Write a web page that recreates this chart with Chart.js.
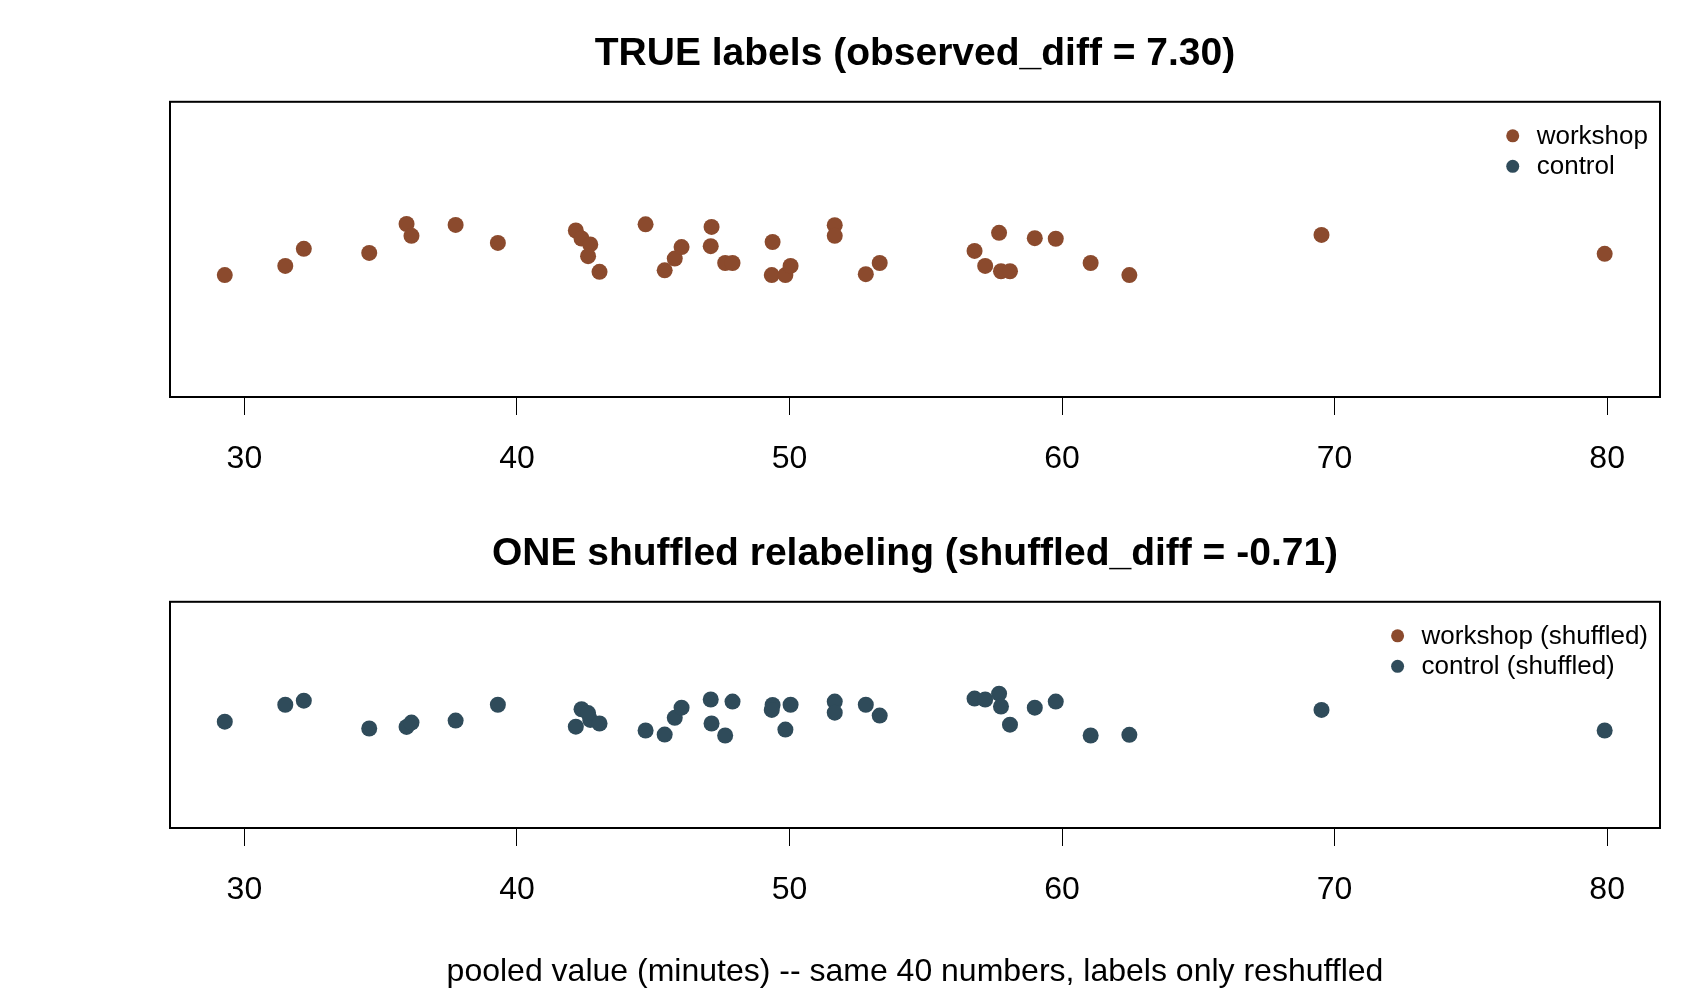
<!DOCTYPE html>
<html>
<head>
<meta charset="utf-8">
<script src="https://cdn.jsdelivr.net/npm/chart.js@4.4.1/dist/chart.umd.min.js"></script>
<style>
  html, body { margin: 0; padding: 0; background: #fff; }
  #wrap { position: relative; width: 1700px; height: 1000px; }
  canvas { position: absolute; left: 0; }
  #trueChart { top: 0; }
  #shuffledChart { top: 500px; }
</style>
</head>
<body>
<div id="wrap">
  <canvas id="trueChart" width="1700" height="500"></canvas>
  <canvas id="shuffledChart" width="1700" height="500"></canvas>
</div>
<script>
// the same 40 pooled values in both panels (minutes)
const pooledValues = [
  29.28, 31.50, 32.18, 34.58, 35.95, 36.13, 37.75, 39.30, 42.16, 42.37,
  42.69, 42.61, 43.03, 44.72, 45.42, 45.79, 46.04, 47.14, 47.11, 47.64,
  47.91, 49.38, 49.35, 49.85, 50.04, 51.66, 51.66, 52.80, 53.31, 56.79,
  57.18, 57.69, 57.76, 58.09, 59.00, 59.77, 61.05, 62.47, 69.52, 79.91,
];
// vertical jitter (strip centred on 1)
const jitterTrue = [
  0.913, 0.944, 1.002, 0.988, 1.086, 1.046, 1.083, 1.022, 1.064, 1.037,
  1.017, 0.977, 0.924, 1.085, 0.929, 0.969, 1.008, 1.076, 1.011, 0.954,
  0.954, 1.025, 0.913, 0.913, 0.944, 1.082, 1.046, 0.916, 0.954, 0.995,
  0.944, 1.056, 0.926, 0.926, 1.038, 1.036, 0.954, 0.913, 1.049, 0.985,
];
const jitterShuffled = [
  0.970, 1.045, 1.063, 0.940, 0.947, 0.966, 0.975, 1.045, 0.948, 1.025,
  0.978, 1.008, 0.962, 0.931, 0.913, 0.987, 1.032, 0.962, 1.068, 0.909,
  1.059, 1.044, 1.022, 0.935, 1.045, 1.059, 1.010, 1.045, 0.997, 1.072,
  1.068, 1.094, 1.037, 0.957, 1.032, 1.059, 0.909, 0.912, 1.022, 0.931,
];
const xTicks = [30, 40, 50, 60, 70, 80];
const xLimits = [27.27, 81.94];

const workshopColor = "#8b4a2d";
const controlColor = "#2f4b5a";
const fontFamily = "'Liberation Sans', Arial, sans-serif";

Chart.defaults.font.family = fontFamily;
Chart.defaults.color = "#000";

function points(xs, ys) {
  return xs.map((x, i) => ({ x, y: ys[i] }));
}

const framePlugin = {
  id: "frame",
  afterDatasetsDraw(chart) {
    const { ctx, chartArea: a } = chart;
    ctx.save();
    ctx.strokeStyle = "#000";
    ctx.lineWidth = 2;
    ctx.strokeRect(a.left, a.top, a.right - a.left, a.bottom - a.top);
    ctx.restore();
  },
};

// R-style "topright" legend drawn inside the plot box
const cornerLegend = {
  id: "cornerLegend",
  afterDraw(chart) {
    const { ctx, chartArea: a } = chart;
    const sets = chart.data.datasets;
    ctx.save();
    ctx.font = `26px ${fontFamily}`;
    const maxW = Math.max(...sets.map((d) => ctx.measureText(d.label).width));
    const textX = a.right - 12 - maxW;
    sets.forEach((d, i) => {
      const y = a.top + 34 + i * 30.5;
      ctx.fillStyle = d.backgroundColor;
      ctx.beginPath();
      ctx.arc(textX - 24, y, 6.5, 0, Math.PI * 2);
      ctx.fill();
      ctx.fillStyle = "#000";
      ctx.textAlign = "left";
      ctx.textBaseline = "middle";
      ctx.fillText(d.label, textX, y + 1);
    });
    ctx.restore();
  },
};

function makeChart(canvas, title, datasets, axisTitle, layout) {
  return new Chart(canvas, {
    type: "scatter",
    data: { datasets },
    options: {
      responsive: false,
      animation: false,
      layout: { padding: { top: 10, left: 170, right: 40, bottom: layout.bottomPad } },
      elements: { point: { radius: 8, borderWidth: 0, hoverRadius: 8 } },
      plugins: {
        legend: { display: false },
        tooltip: { enabled: false },
        title: {
          display: true,
          text: title,
          color: "#000",
          font: { size: 39, weight: "bold" },
          padding: { top: 21, bottom: 24 },
        },
      },
      scales: {
        x: {
          type: "linear",
          min: xLimits[0],
          max: xLimits[1],
          afterBuildTicks: (scale) => { scale.ticks = xTicks.map((v) => ({ value: v })); },
          afterFit: (scale) => { scale.height = layout.axisHeight; },
          grid: { drawOnChartArea: false, drawTicks: true, tickLength: 18, color: "#000", lineWidth: 1 },
          border: { display: false },
          ticks: { font: { size: 32 }, color: "#000", padding: 25, maxRotation: 0 },
          title: axisTitle
            ? { display: true, text: axisTitle, font: { size: 32 }, color: "#000", padding: { top: 0, bottom: 7 } }
            : { display: false },
        },
        y: { display: false, min: 0.5, max: 1.5 },
      },
    },
    plugins: [framePlugin, cornerLegend],
  });
}

makeChart(
  document.getElementById("trueChart"),
  "TRUE labels (observed_diff = 7.30)",
  [
    { label: "workshop", data: points(pooledValues, jitterTrue), backgroundColor: workshopColor },
    { label: "control", data: [], backgroundColor: controlColor },
  ],
  null,
  { bottomPad: 23, axisHeight: 80 }
);

makeChart(
  document.getElementById("shuffledChart"),
  "ONE shuffled relabeling (shuffled_diff = -0.71)",
  [
    { label: "workshop (shuffled)", data: [], backgroundColor: workshopColor },
    { label: "control (shuffled)", data: points(pooledValues, jitterShuffled), backgroundColor: controlColor },
  ],
  "pooled value (minutes) -- same 40 numbers, labels only reshuffled",
  { bottomPad: 2, axisHeight: 170 }
);
</script>
</body>
</html>
